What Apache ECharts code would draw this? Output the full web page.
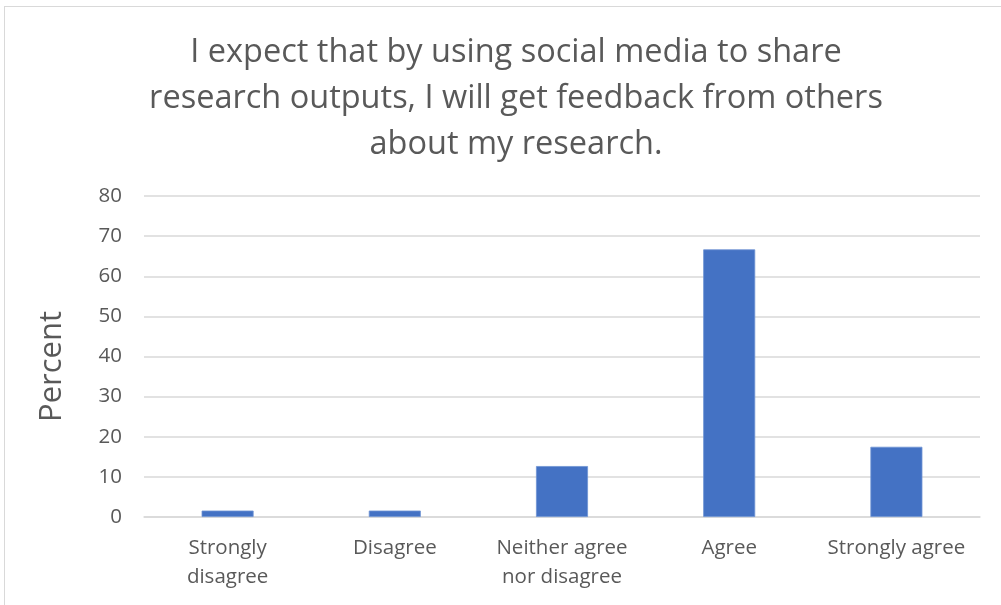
<!DOCTYPE html>
<html><head><meta charset="utf-8">
<script src="https://cdn.jsdelivr.net/npm/echarts@6/dist/echarts.min.js"></script>
<style>
html,body{margin:0;padding:0;background:#fff;}
#frame{position:absolute;left:4px;top:6px;width:1010px;height:620px;border:1px solid #d9d9d9;box-sizing:border-box;}
#c{position:absolute;left:0;top:0;width:1001px;height:605px;}
</style></head>
<body>
<div id="frame"></div>
<div id="c"></div>
<script>
const titleText = "I expect that by using social media to share\nresearch outputs, I will get feedback from others\nabout my research.";
const categories = ["Strongly\ndisagree", "Disagree", "Neither agree\nnor disagree", "Agree", "Strongly agree"];
const percentValues = [1.6, 1.6, 12.7, 66.7, 17.5];
const yTicks = {min: 0, max: 80, interval: 10};
const yAxisName = "Percent";

const FONT = "Open Sans";
const TXT = "#595959";
const chart = echarts.init(document.getElementById('c'), null, {renderer: 'canvas'});
chart.setOption({
  animation: false,
  backgroundColor: 'transparent',
  title: {
    text: titleText, left: 511, top: 25, textAlign: 'center',
    textStyle: {fontFamily: FONT, fontSize: 32.5, fontWeight: 'normal', color: TXT, lineHeight: 46}
  },
  grid: {left: 144, right: 21, top: 196, bottom: 88, containLabel: false},
  xAxis: {
    type: 'category', data: categories,
    axisLine: {show: true, lineStyle: {color: '#d9d9d9', width: 1.5}},
    axisTick: {show: false},
    axisLabel: {fontFamily: FONT, fontSize: 20.5, color: TXT, lineHeight: 29, margin: 17, interval: 0}
  },
  yAxis: {
    type: 'value', min: yTicks.min, max: yTicks.max, interval: yTicks.interval,
    name: yAxisName, nameLocation: 'middle', nameGap: 76, nameRotate: 90,
    nameTextStyle: {fontFamily: FONT, fontSize: 31, color: TXT, padding: [0, 20, 0, 0]},
    axisLine: {show: false}, axisTick: {show: false},
    axisLabel: {fontFamily: FONT, fontSize: 20.5, color: TXT, margin: 22},
    splitLine: {lineStyle: {color: '#d9d9d9', width: 1.5}}
  },
  series: [{
    type: 'bar', data: percentValues, barWidth: 52,
    itemStyle: {color: '#4472C4', borderColor: '#6f93d3', borderWidth: 0.8}
  }]
});
</script>
</body></html>
